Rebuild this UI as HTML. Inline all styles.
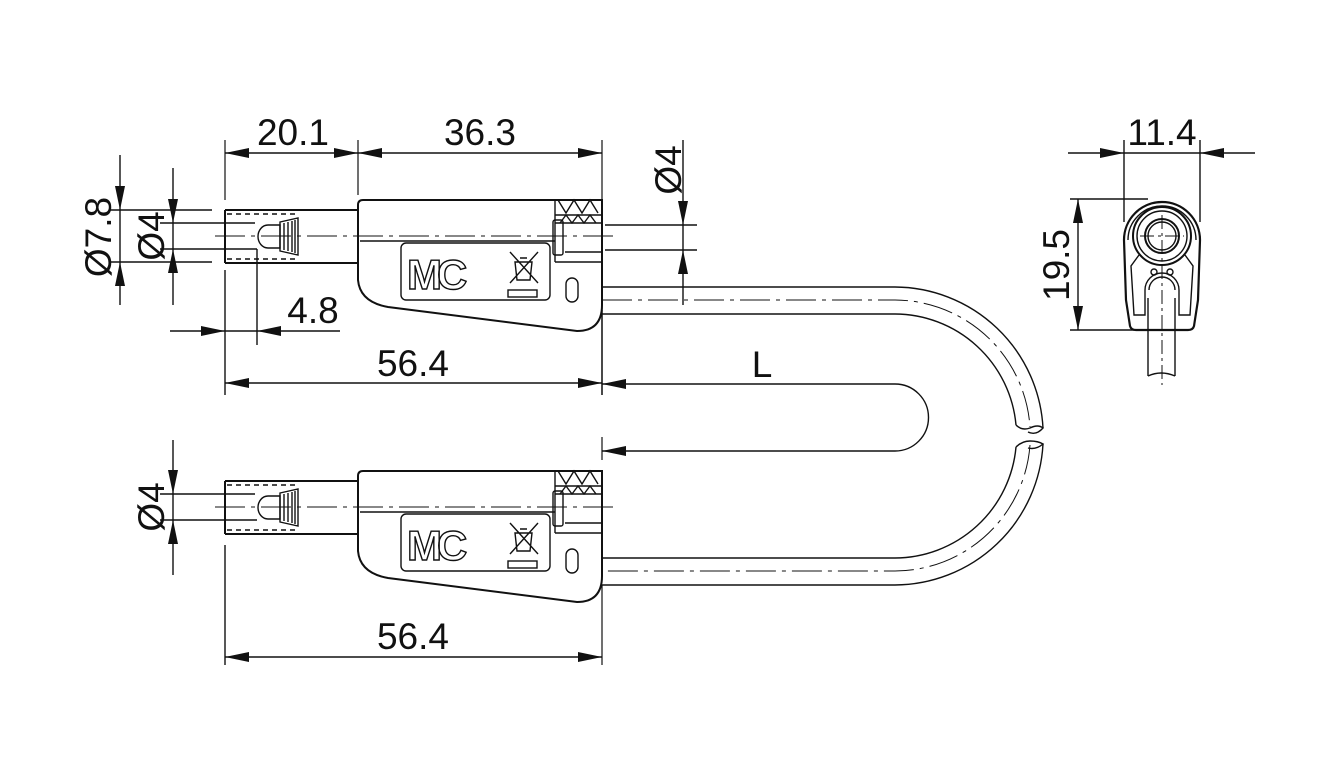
<!DOCTYPE html>
<html><head><meta charset="utf-8"><style>
html,body{margin:0;padding:0;background:#fff;}
svg{display:block;}
text{font-family:"Liberation Sans",sans-serif;font-size:37px;fill:#111;}
</style></head><body>
<svg width="1320" height="774" viewBox="0 0 1320 774" xmlns="http://www.w3.org/2000/svg">
<g fill="none" stroke="#111" stroke-width="1.4">

<g>
<path d="M225,210 H358 M225,263 H358 M225,210 V263" stroke-width="2"/>
<path d="M227,214 H298 M227,259 H298" stroke-dasharray="5 4"/>
<path d="M280,225 H268 A10,11.5 0 0 0 268,248 H280 Z"/>
<path d="M280,222 L298,218 V255 L280,251 Z"/>
<path d="M284,223 V250 M288,222 V251 M292,221 V252 M295,220 V253"/>
<path d="M215,236 H615" stroke-dasharray="30 6 4 6" stroke-width="1"/>
<path d="M363,200 H602 V305 Q602,331 577,331 L388,307 Q360,302 358,280 V205 Q358,200 363,200 Z" stroke-width="2"/>
<path d="M360,241 H555"/>
<rect x="401" y="243" width="149" height="57" rx="5"/>
<path d="M555,200 V262 M555,215 H602 M555,223 H602 M565,252 H602 M555,262 H602"/>
<path d="M558,200 L566,213 L574,200 L582,213 L590,200 L598,213 M560,223 L566,215 L572,223 L578,215 L584,223 L590,215 L596,223"/>
<rect x="553" y="220" width="10" height="35" rx="2"/>
<rect x="566" y="278" width="12" height="24" rx="6"/>
<rect x="508" y="290" width="29" height="7"/>
<path d="M510,252 L538,283 M538,252 L510,283 M515,262 H532 L530,280 H517 Z M520,258 H527"/>
</g>
<text x="407" y="289" style="font-size:42px;font-weight:bold;fill:#fff;stroke:#111;stroke-width:1.4;letter-spacing:-5px">MC</text>

<g transform="translate(0,271)">
<path d="M225,210 H358 M225,263 H358 M225,210 V263" stroke-width="2"/>
<path d="M227,214 H298 M227,259 H298" stroke-dasharray="5 4"/>
<path d="M280,225 H268 A10,11.5 0 0 0 268,248 H280 Z"/>
<path d="M280,222 L298,218 V255 L280,251 Z"/>
<path d="M284,223 V250 M288,222 V251 M292,221 V252 M295,220 V253"/>
<path d="M215,236 H615" stroke-dasharray="30 6 4 6" stroke-width="1"/>
<path d="M363,200 H602 V305 Q602,331 577,331 L388,307 Q360,302 358,280 V205 Q358,200 363,200 Z" stroke-width="2"/>
<path d="M360,241 H555"/>
<rect x="401" y="243" width="149" height="57" rx="5"/>
<path d="M555,200 V262 M555,215 H602 M555,223 H602 M565,252 H602 M555,262 H602"/>
<path d="M558,200 L566,213 L574,200 L582,213 L590,200 L598,213 M560,223 L566,215 L572,223 L578,215 L584,223 L590,215 L596,223"/>
<rect x="553" y="220" width="10" height="35" rx="2"/>
<rect x="566" y="278" width="12" height="24" rx="6"/>
<rect x="508" y="290" width="29" height="7"/>
<path d="M510,252 L538,283 M538,252 L510,283 M515,262 H532 L530,280 H517 Z M520,258 H527"/>
</g>
<text x="407" y="560" style="font-size:42px;font-weight:bold;fill:#fff;stroke:#111;stroke-width:1.4;letter-spacing:-5px">MC</text>

<path d="M602,287 H895 A149,149 0 0 1 1043,428"/>
<path d="M602,314 H895 A122,122 0 0 1 1016,425"/>
<path d="M1016,425 Q1022,431 1030,428 Q1038,424 1043,428 Q1036,436 1028,432"/>
<path d="M602,300 H895 A136,136 0 0 1 1030,427" stroke-dasharray="30 6 4 6" stroke-width="1"/>
<path d="M1016,447 A122,122 0 0 1 895,558 H602"/>
<path d="M1043,444 A149,149 0 0 1 895,585 H602"/>
<path d="M1016,447 Q1022,441 1030,441 Q1038,441 1043,444 Q1036,450 1028,448"/>
<path d="M1030,445 A136,136 0 0 1 895,571 H602" stroke-dasharray="30 6 4 6" stroke-width="1"/>

<path d="M602,384 H895 A33.5,33.5 0 0 1 895,451 H602"/>
<path d="M602,300 V395 M602,437 V460 M602,585 V665" stroke-width="1.2"/>

<path d="M225,140 V200 M358,140 V195 M602,140 V200" stroke-width="1.2"/>
<path d="M225,153 H602"/>
<path d="M683,140 V305 M605,225 H697 M605,250 H697"/>
<path d="M120,155 V305 M110,210 H212 M110,262 H212"/>
<path d="M173,168 V305 M160,223 H255 M160,249 H257"/>
<path d="M170,331 H340 M257,249 V345 M225,270 V395"/>
<path d="M225,383 H602 M602,310 V395"/>
<path d="M173,440 V575 M160,494 H255 M160,520 H257"/>
<path d="M225,657 H602 M225,545 V665"/>
</g>

<g fill="#111" stroke="none">
<polygon points="225,153 249,148 249,158"/>
<polygon points="358,153 334,148 334,158"/>
<polygon points="358,153 382,148 382,158"/>
<polygon points="602,153 578,148 578,158"/>
<polygon points="683,225 678,201 688,201"/>
<polygon points="683,250 678,274 688,274"/>
<polygon points="120,210 115,186 125,186"/>
<polygon points="120,262 115,286 125,286"/>
<polygon points="173,223 168,199 178,199"/>
<polygon points="173,249 168,273 178,273"/>
<polygon points="225,331 201,326 201,336"/>
<polygon points="257,331 281,326 281,336"/>
<polygon points="225,383 249,378 249,388"/>
<polygon points="602,383 578,378 578,388"/>
<polygon points="602,384 626,379 626,389"/>
<polygon points="602,451 626,446 626,456"/>
<polygon points="173,494 168,470 178,470"/>
<polygon points="173,520 168,544 178,544"/>
<polygon points="225,657 249,652 249,662"/>
<polygon points="602,657 578,652 578,662"/>
<polygon points="1124,153 1100,148 1100,158"/>
<polygon points="1200,153 1224,148 1224,158"/>
<polygon points="1078,199 1073,223 1083,223"/>
<polygon points="1078,330 1073,306 1083,306"/>
</g>

<text x="293" y="145" text-anchor="middle">20.1</text>
<text x="480" y="145" text-anchor="middle">36.3</text>
<text x="313" y="323" text-anchor="middle">4.8</text>
<text x="413" y="376" text-anchor="middle">56.4</text>
<text x="413" y="649" text-anchor="middle">56.4</text>
<text x="762" y="377" text-anchor="middle">L</text>
<text x="1162" y="145" text-anchor="middle">11.4</text>
<text transform="translate(111,237) rotate(-90)" text-anchor="middle">Ø7.8</text>
<text transform="translate(164,236) rotate(-90)" text-anchor="middle">Ø4</text>
<text transform="translate(164,507) rotate(-90)" text-anchor="middle">Ø4</text>
<text transform="translate(681,170) rotate(-90)" text-anchor="middle">Ø4</text>
<text transform="translate(1069,265) rotate(-90)" text-anchor="middle">19.5</text>

<g fill="none" stroke="#111" stroke-width="1.4">
<path d="M1124,140 V222 M1200,140 V222 M1068,153 H1255"/>
<path d="M1078,199 V330 M1070,199 H1148 M1070,330 H1135"/>
<path d="M1124,240 A38,38 0 0 1 1200,240 L1198,300 L1194,326 Q1193,330 1188,330 H1136 Q1131,330 1130,326 L1126,300 Z" stroke-width="2.2"/>
<path d="M1128,240 A34,34 0 0 1 1196,240"/>
<circle cx="1162" cy="236" r="29" stroke-width="2"/>
<circle cx="1162" cy="236" r="25"/>
<circle cx="1162" cy="236" r="17" stroke-width="2"/>
<circle cx="1162" cy="236" r="14"/>
<path d="M1139,255 L1131,266 L1134,315 H1145 V290 A17,17 0 0 1 1179,290 V315 H1190 L1193,266 L1185,255"/>
<path d="M1149,290 A13,13 0 0 1 1175,290"/>
<circle cx="1154" cy="272" r="3"/>
<circle cx="1170" cy="272" r="3"/>
<path d="M1148,298 V376 M1175,298 V376 M1148,376 Q1161,370 1175,376"/>
<path d="M1162,215 V385 M1140,236 H1184" stroke-dasharray="14 4 3 4" stroke-width="1"/>
</g>
</svg>
</body></html>
